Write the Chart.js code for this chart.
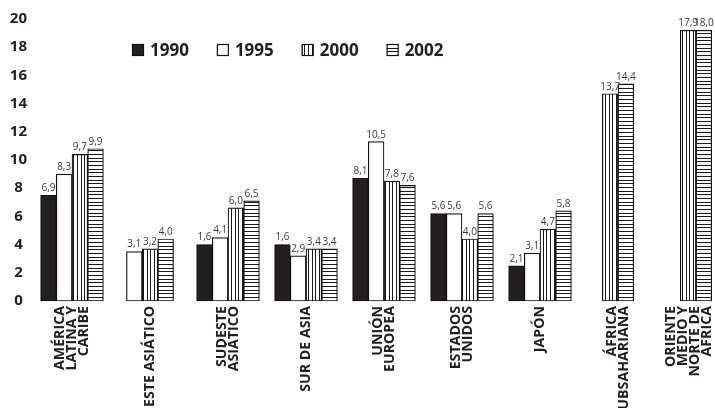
<!DOCTYPE html>
<html>
<head>
<meta charset="utf-8">
<script src="https://cdn.jsdelivr.net/npm/chart.js@4.4.1/dist/chart.umd.min.js"></script>
<style>
	html, body { margin: 0; padding: 0; background: #fff; overflow: hidden; }
	#wrap { position: relative; width: 715px; height: 408px; }
</style>
</head>
<body>
<div id="wrap"><canvas id="chart"></canvas></div>
<script>
// categories (multi-line labels, as printed under the axis)
const regions = [
	["AMÉRICA", "LATINA Y", "CARIBE"],
	["ESTE ASIÁTICO"],
	["SUDESTE", "ASIÁTICO"],
	["SUR DE ASIA"],
	["UNIÓN", "EUROPEA"],
	["ESTADOS", "UNIDOS"],
	["JAPÓN"],
	["ÁFRICA", "SUBSAHARIANA"],
	["ORIENTE", "MEDIO Y", "NORTE DE", "ÁFRICA"],
];
const years = ["1990", "1995", "2000", "2002"];

// bar heights as drawn against the axis
const bars1990 = [7.5, null, 4.0, 4.0, 8.7, 6.2, 2.5, null, null];
const bars1995 = [9.0, 3.5, 4.5, 3.2, 11.3, 6.2, 3.4, null, null];
const bars2000 = [10.4, 3.7, 6.6, 3.7, 8.5, 4.4, 5.1, 14.7, 19.2];
const bars2002 = [10.8, 4.4, 7.1, 3.7, 8.2, 6.2, 6.4, 15.4, 19.2];

// numbers printed on top of the bars
const labels1990 = ["6,9", null, "1,6", "1,6", "8,1", "5,6", "2,1", null, null];
const labels1995 = ["8,3", "3,1", "4,1", "2,9", "10,5", "5,6", "3,1", null, null];
const labels2000 = ["9,7", "3,2", "6,0", "3,4", "7,8", "4,0", "4,7", "13,7", "17,9"];
const labels2002 = ["9,9", "4,0", "6,5", "3,4", "7,6", "5,6", "5,8", "14,4", "18,0"];

const yTicks = [0, 2, 4, 6, 8, 10, 12, 14, 16, 18, 20];

const ink = "#231f20";
const fontFamily = "'Open Sans', 'Noto Sans', sans-serif";

// striped fills for 2000 and 2002
function stripes(vertical) {
	let c = document.createElement("canvas");
	c.width = 11;
	c.height = 11;
	let g = c.getContext("2d");
	g.fillStyle = "#fff";
	g.fillRect(0, 0, 11, 11);
	g.fillStyle = "#1a1a1a";
	[0, 4, 7].forEach(function (p) {
		if (vertical) g.fillRect(p, 0, 1, 11);
		else g.fillRect(0, p, 11, 1);
	});
	return g.createPattern(c, "repeat");
}

const fills = [ink, "#ffffff", stripes(true), stripes(false)];
const seriesBars = [bars1990, bars1995, bars2000, bars2002];
const seriesLabels = [labels1990, labels1995, labels2000, labels2002];

// value labels above each bar
const valueLabels = {
	id: "valueLabels",
	afterDatasetsDraw(chart) {
		let ctx = chart.ctx;
		ctx.save();
		ctx.font = "10px " + fontFamily;
		ctx.fillStyle = "#3a3a3a";
		ctx.textAlign = "center";
		ctx.textBaseline = "bottom";
		seriesLabels.forEach(function (texts, d) {
			let meta = chart.getDatasetMeta(d);
			texts.forEach(function (t, i) {
				if (t === null) return;
				let bar = meta.data[i];
				ctx.fillText(t, bar.x, bar.y - 2);
			});
		});
		ctx.restore();
	},
};

// rotated, centred multi-line category names under the axis
const regionLabels = {
	id: "regionLabels",
	afterDraw(chart) {
		let xs = chart.scales.x;
		let ctx = chart.ctx;
		let lineH = 12;
		ctx.save();
		ctx.font = "bold 14.2px " + fontFamily;
		ctx.fillStyle = ink;
		ctx.textAlign = "right";
		ctx.textBaseline = "middle";
		regions.forEach(function (lines, i) {
			let half = (lines.length - 1) / 2 * lineH;
			// keep the block inside the canvas
			let x = Math.min(xs.getPixelForTick(i), chart.width - 8 - half);
			lines.forEach(function (line, j) {
				ctx.save();
				ctx.translate(x - half + j * lineH, xs.top + 5);
				ctx.rotate(-Math.PI / 2);
				ctx.fillText(line, 0, 0);
				ctx.restore();
			});
		});
		ctx.restore();
	},
};

// legend row inside the plot
const seriesLegend = {
	id: "seriesLegend",
	afterDraw(chart) {
		let ctx = chart.ctx;
		let x = 132;
		let y = 50;
		ctx.save();
		ctx.font = "bold 17px " + fontFamily;
		ctx.textBaseline = "middle";
		chart.data.datasets.forEach(function (ds) {
			ctx.fillStyle = ds.backgroundColor;
			ctx.fillRect(x, y - 6, 12, 12);
			ctx.lineWidth = 1.2;
			ctx.strokeStyle = "#111";
			ctx.strokeRect(x + 0.5, y - 5.5, 11, 11);
			ctx.fillStyle = ink;
			ctx.fillText(ds.label, x + 18, y + 1);
			x += 18 + ctx.measureText(ds.label).width + 28;
		});
		ctx.restore();
	},
};

const data = {
	labels: regions,
	datasets: years.map(function (year, d) {
		return {
			label: year,
			data: seriesBars[d],
			backgroundColor: fills[d],
			borderColor: "#111",
			borderWidth: 1.2,
			borderSkipped: false,
		};
	}),
};

const chartConfig = {
	type: "bar",
	data: data,
	options: {
		responsive: true,
		maintainAspectRatio: false,
		animation: false,
		layout: { padding: { top: 19, right: 19, bottom: 0, left: 0 } },
		datasets: {
			// fixed width so groups with missing years stay narrow and centred
			bar: { barThickness: 15.7, skipNull: true, clip: false },
		},
		scales: {
			x: {
				offset: false,
				grid: { display: false, drawTicks: false },
				border: { display: false },
				ticks: { display: false },
				afterFit: function (scale) {
					scale.height = 107;
				},
			},
			y: {
				min: 0,
				max: 20,
				afterBuildTicks: function (scale) {
					scale.ticks = yTicks.map(function (v) {
						return { value: v };
					});
				},
				grid: { display: false, drawTicks: false },
				border: { display: false },
				ticks: {
					crossAlign: "center",
					padding: 45,
					color: ink,
					font: { family: fontFamily, weight: "bold", size: 15 },
				},
				afterFit: function (scale) {
					scale.width = 72;
					scale.paddingTop = 0;
					scale.paddingBottom = 0;
				},
			},
		},
		plugins: {
			legend: { display: false },
			tooltip: { enabled: false },
		},
	},
	plugins: [valueLabels, regionLabels, seriesLegend],
};

const regionChart = new Chart(document.getElementById("chart"), chartConfig);
</script>
</body>
</html>
